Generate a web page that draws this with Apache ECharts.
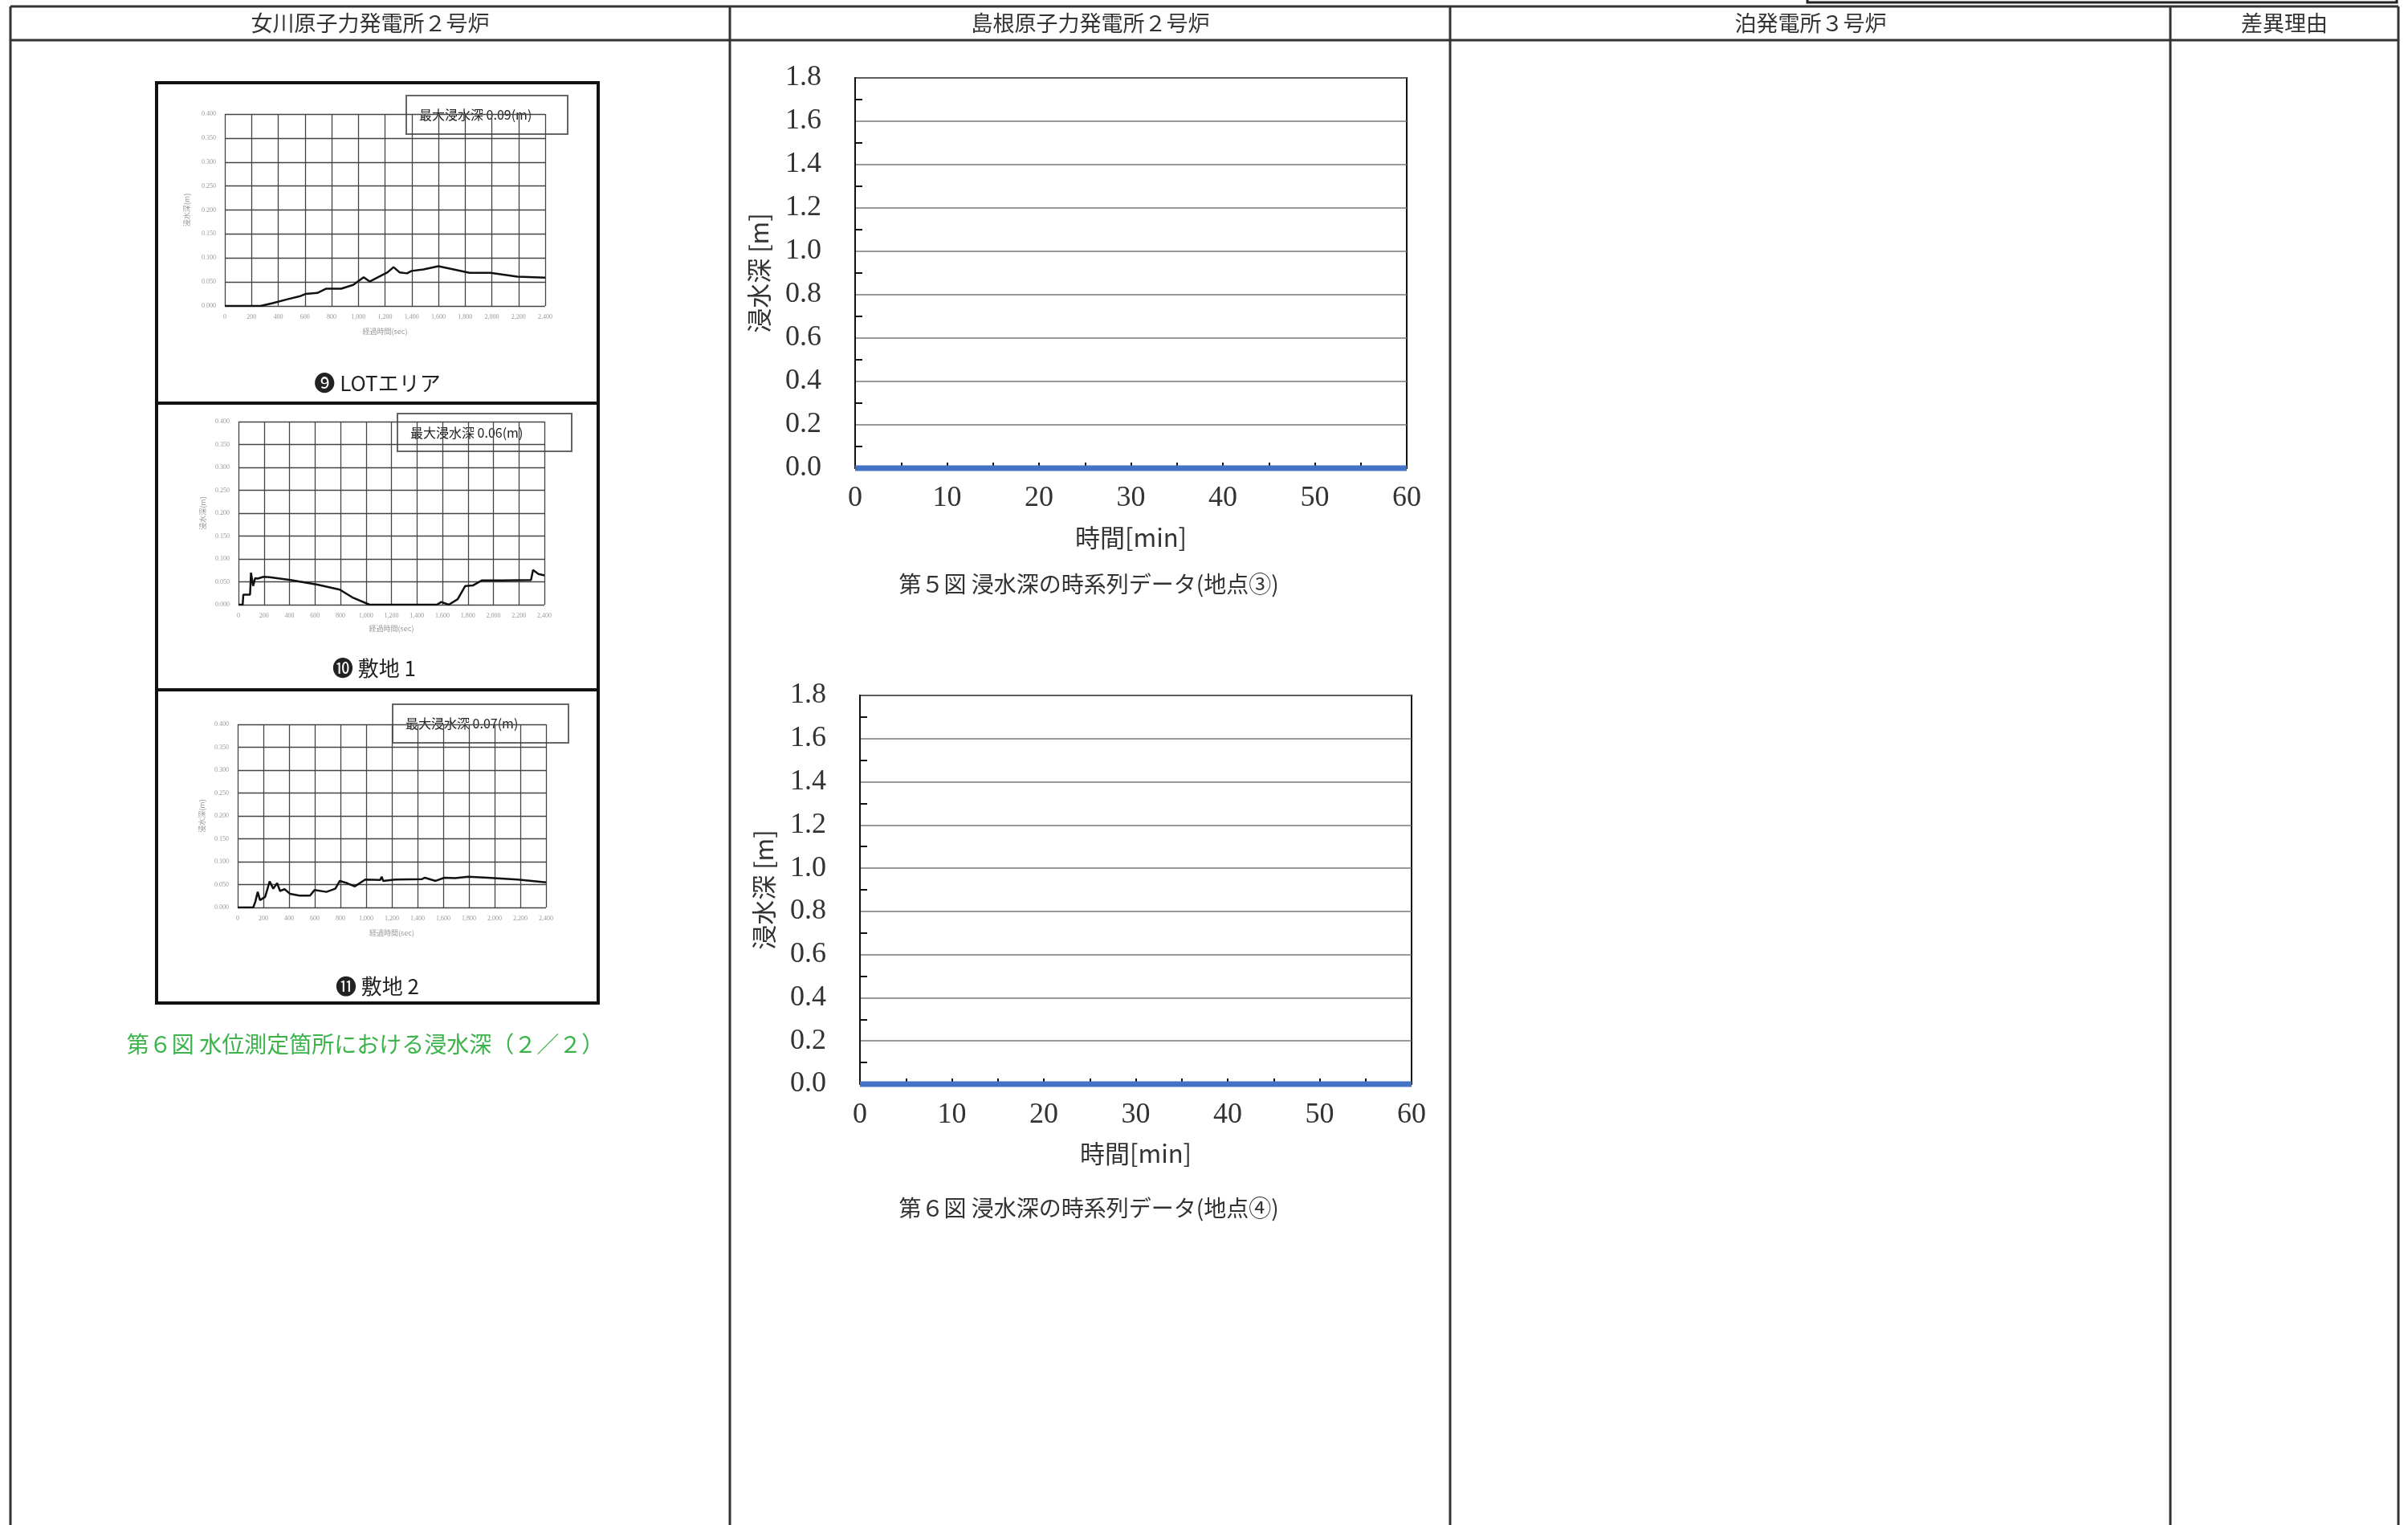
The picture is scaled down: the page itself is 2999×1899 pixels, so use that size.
<!DOCTYPE html>
<html>
<head>
<meta charset="utf-8">
<script src="https://cdn.jsdelivr.net/npm/echarts@6/dist/echarts.min.js"></script>
<style>
  html, body { margin: 0; padding: 0; background: #fff; }
  #page { width: 2999px; height: 1899px; }
</style>
</head>
<body>
<div id="page"></div>
<script>
// 女川 ⑨ LOTエリア  (経過時間 sec / 浸水深 m)
const lotTime  = [0, 268, 358, 470, 559, 604, 693, 760, 872, 962, 1040, 1085, 1163, 1219, 1264, 1309, 1365, 1399, 1488, 1600, 1700, 1834, 1990, 2192, 2400];
const lotDepth = [0, 0, 0.006, 0.014, 0.020, 0.025, 0.027, 0.036, 0.036, 0.044, 0.060, 0.051, 0.062, 0.070, 0.081, 0.070, 0.068, 0.073, 0.076, 0.083, 0.077, 0.069, 0.069, 0.061, 0.059];

// 女川 ⑩ 敷地1
const site1Time  = [0, 33, 38, 91, 98, 115, 131, 150, 197, 244, 408, 619, 795, 900, 1029, 1556, 1591, 1650, 1720, 1779, 1838, 1908, 2072, 2295, 2311, 2353, 2400];
const site1Depth = [0, 0, 0.022, 0.022, 0.070, 0.041, 0.058, 0.057, 0.061, 0.060, 0.054, 0.044, 0.033, 0.015, 0, 0, 0.006, 0, 0.012, 0.041, 0.042, 0.053, 0.053, 0.054, 0.076, 0.067, 0.064];

// 女川 ⑪ 敷地2
const site2Time  = [0, 121, 137, 156, 174, 214, 249, 277, 307, 330, 365, 407, 481, 563, 598, 691, 760, 795, 853, 912, 993, 1109, 1121, 1133, 1226, 1435, 1458, 1540, 1609, 1691, 1795, 1947, 2179, 2400];
const site2Depth = [0, 0, 0.012, 0.034, 0.016, 0.023, 0.057, 0.041, 0.053, 0.036, 0.040, 0.030, 0.026, 0.026, 0.038, 0.034, 0.041, 0.058, 0.053, 0.046, 0.061, 0.060, 0.067, 0.058, 0.061, 0.062, 0.065, 0.058, 0.065, 0.064, 0.067, 0.065, 0.061, 0.055];

// 島根 地点③ / 地点④  (時間 min / 浸水深 m)
const shimaneTime   = [0, 10, 20, 30, 40, 50, 60];
const point3Depth   = [0, 0, 0, 0, 0, 0, 0];
const point4Depth   = [0, 0, 0, 0, 0, 0, 0];

const headers   = ['女川原子力発電所２号炉', '島根原子力発電所２号炉', '泊発電所３号炉', '差異理由'];
const maxLabels = ['最大浸水深 0.09(m)', '最大浸水深 0.06(m)', '最大浸水深 0.07(m)'];

const JP = '"Noto Sans CJK JP", sans-serif';
const SERIF = '"Liberation Serif", "DejaVu Serif", serif';

const zip = (xs, ys) => xs.map((x, i) => [x, ys[i]]);

// small scanned charts in the left column
const leftGrids = [
  { left: 280, top: 142, width: 399, height: 239, yGap: 43, xGap: 27 },
  { left: 297, top: 525, width: 381, height: 228, yGap: 40, xGap: 25 },
  { left: 296, top: 902, width: 384, height: 228, yGap: 40, xGap: 27 }
];
// two Shimane charts in the middle column
const midGrids = [
  { left: 1065, top: 97,  width: 687, height: 486, xMargin: 20 },
  { left: 1071, top: 866, width: 687, height: 484, xMargin: 21 }
];

const grid = [], xAxis = [], yAxis = [], series = [];

leftGrids.forEach((g, i) => {
  grid.push({ left: g.left, top: g.top, width: g.width, height: g.height });
  xAxis.push({
    type: 'value', gridIndex: i, min: 0, max: 2400, interval: 200,
    name: '経過時間(sec)', nameLocation: 'middle', nameGap: g.xGap,
    nameTextStyle: { fontFamily: JP, fontSize: 9, color: '#999' },
    axisLine: { show: false }, axisTick: { show: false },
    axisLabel: { margin: 10, fontSize: 8, color: '#999', fontFamily: SERIF },
    splitLine: { show: true, lineStyle: { color: '#444', width: 1.3 } }
  });
  yAxis.push({
    type: 'value', gridIndex: i, min: 0, max: 0.4, interval: 0.05,
    name: '浸水深(m)', nameLocation: 'middle', nameGap: g.yGap,
    nameTextStyle: { fontFamily: JP, fontSize: 9, color: '#999' },
    axisLine: { show: false }, axisTick: { show: false },
    axisLabel: { margin: 11, fontSize: 8, color: '#999', fontFamily: SERIF,
      formatter: v => v.toFixed(3) },
    splitLine: { show: true, lineStyle: { color: '#444', width: 1.3 } }
  });
});

const leftData = [zip(lotTime, lotDepth), zip(site1Time, site1Depth), zip(site2Time, site2Depth)];
leftData.forEach((d, i) => {
  series.push({
    type: 'line', xAxisIndex: i, yAxisIndex: i, data: d,
    showSymbol: false, lineStyle: { color: '#111', width: 2.5 }
  });
});

midGrids.forEach((g, j) => {
  const i = j + 3;
  grid.push({ left: g.left, top: g.top, width: g.width, height: g.height,
    show: true, borderColor: '#111', borderWidth: 2 });
  xAxis.push({
    type: 'value', gridIndex: i, min: 0, max: 60, interval: 10,
    name: '時間[min]', nameLocation: 'middle', nameGap: 71,
    nameTextStyle: { fontFamily: JP, fontSize: 31, color: '#333' },
    axisLine: { show: true, lineStyle: { color: '#111', width: 2 } },
    axisTick: { show: true, inside: true, length: 7, lineStyle: { color: '#111', width: 2 } },
    minorTick: { show: true, splitNumber: 2, length: 7, lineStyle: { color: '#111', width: 2 } },
    axisLabel: { margin: g.xMargin, fontSize: 36, color: '#333', fontFamily: SERIF },
    splitLine: { show: false }
  });
  yAxis.push({
    type: 'value', gridIndex: i, min: 0, max: 1.8, interval: 0.2,
    name: '浸水深 [m]', nameLocation: 'middle', nameGap: 104,
    nameTextStyle: { fontFamily: JP, fontSize: 31, color: '#333' },
    axisLine: { show: true, lineStyle: { color: '#111', width: 2 } },
    axisTick: { show: false, inside: true },
    minorTick: { show: true, splitNumber: 2, length: 9, lineStyle: { color: '#111', width: 2 } },
    axisLabel: { margin: 42, fontSize: 36, color: '#333', fontFamily: SERIF,
      formatter: v => v.toFixed(1) },
    splitLine: { show: true, lineStyle: { color: '#777', width: 1.5 } }
  });
});

[point3Depth, point4Depth].forEach((d, j) => {
  series.push({
    type: 'line', xAxisIndex: j + 3, yAxisIndex: j + 3, data: zip(shimaneTime, d),
    showSymbol: false, clip: false, lineStyle: { color: '#4472c4', width: 7 }
  });
});

// page frame: table lines, headers, captions, panel frames
const line = (x1, y1, x2, y2, w, c) => ({ type: 'line', silent: true,
  shape: { x1, y1, x2, y2 }, style: { stroke: c || '#333', lineWidth: w || 3 } });
const text = (x, y, t, size, color, extra) => ({ type: 'text', silent: true, x, y,
  style: Object.assign({ text: t, font: size + 'px ' + JP, fill: color || '#333',
    align: 'center', verticalAlign: 'middle' }, extra || {}) });
const frame = (x, y, w, h, lw, c) => ({ type: 'rect', silent: true,
  shape: { x, y, width: w, height: h }, style: { fill: 'none', stroke: c || '#111', lineWidth: lw } });
const legendBox = (x, y, w, h, label) => [
  { type: 'rect', silent: true, shape: { x, y, width: w, height: h },
    style: { fill: '#fff', stroke: '#666', lineWidth: 2 } },
  text(x + 16, y + h / 2, label, 16, '#222', { align: 'left' })
];

const graphic = [
  line(13, 8, 2987, 8), line(13, 50, 2987, 50),
  line(13, 8, 13, 1899), line(909, 8, 909, 1899), line(1806, 8, 1806, 1899),
  line(2703, 8, 2703, 1899), line(2987, 8, 2987, 1899),
  frame(2251, -10, 734, 13, 3, '#222'),
  text(461, 29, headers[0], 27), text(1358, 29, headers[1], 27),
  text(2255, 29, headers[2], 27), text(2845, 29, headers[3], 27),

  frame(195, 103, 550, 399, 4), frame(195, 502, 550, 357, 4), frame(195, 859, 550, 390, 4),

  ...legendBox(506, 119, 201, 48, maxLabels[0]),
  ...legendBox(495, 515, 217, 47, maxLabels[1]),
  ...legendBox(489, 877, 219, 48, maxLabels[2]),

  text(470, 477, '❾ LOTエリア', 26, '#222'),
  text(466, 832, '❿ 敷地 1', 26, '#222'),
  text(470, 1228, '⓫ 敷地 2', 26, '#222'),
  text(455, 1300, '第６図 水位測定箇所における浸水深（２／２）', 28, '#3cb44b'),

  text(1356, 727, '第５図 浸水深の時系列データ(地点③)', 28, '#333'),
  text(1356, 1504, '第６図 浸水深の時系列データ(地点④)', 28, '#333')
];

const chart = echarts.init(document.getElementById('page'));
chart.setOption({
  animation: false,
  backgroundColor: '#fff',
  grid, xAxis, yAxis, series, graphic
});
</script>
</body>
</html>
